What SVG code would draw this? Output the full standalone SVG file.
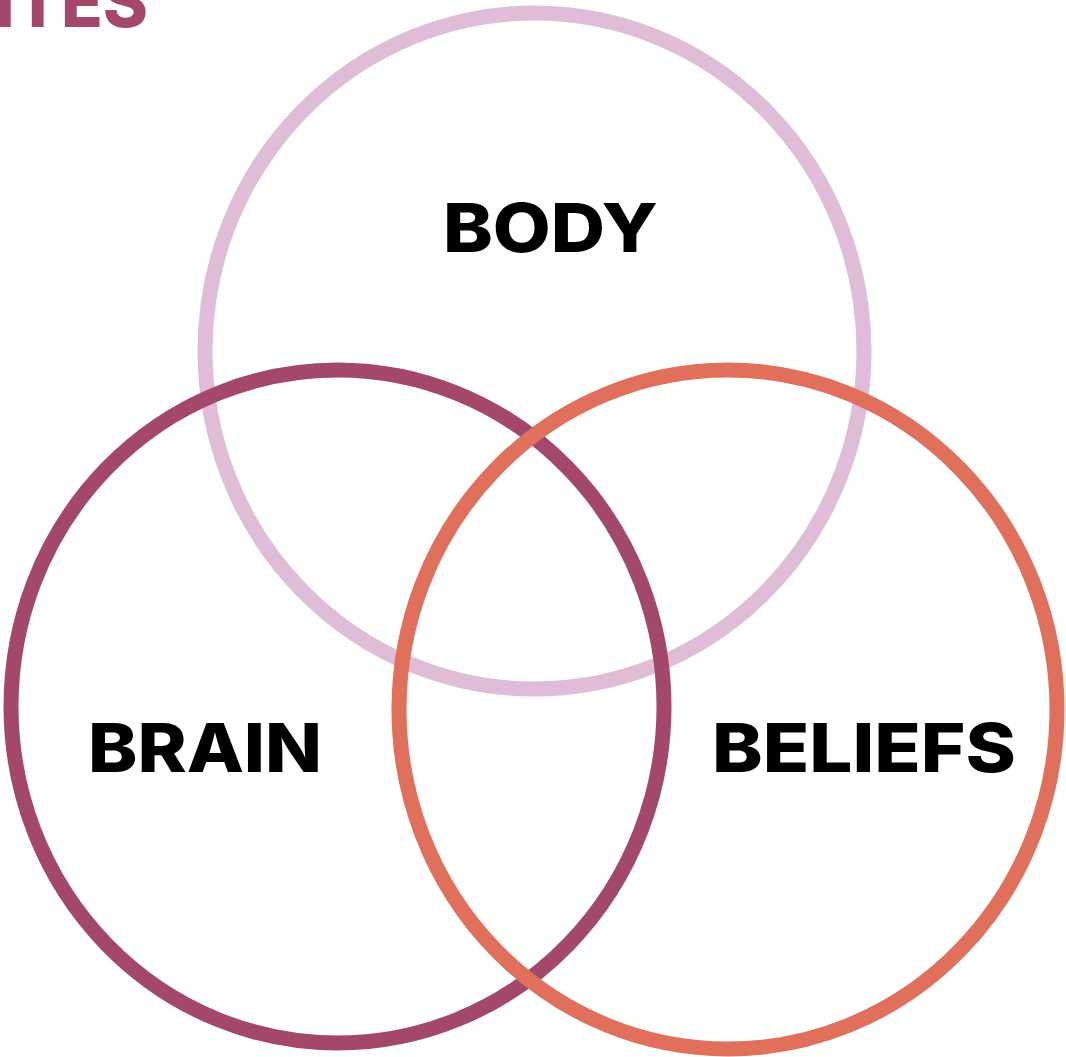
<svg xmlns="http://www.w3.org/2000/svg" width="1066" height="1057" viewBox="0 0 1066 1057">
<style>
.ring{fill:none;stroke-width:15}
.lbl{font-family:Inter,"Liberation Sans",sans-serif;font-weight:800;fill:#000;font-size:68px}
</style>
<rect width="1066" height="1057" fill="#fff"/>
<text x="-5" y="27" font-family="Inter,'Liberation Sans',sans-serif" font-weight="800" font-size="72" fill="#a3476b" textLength="153" lengthAdjust="spacingAndGlyphs">ITES</text>
<g id="connectors"></g>
<g id="body">
<ellipse class="ring" cx="534.5" cy="351" rx="329.5" ry="338" stroke="#dfbcd7"/>
<text class="lbl" x="443" y="252" textLength="215" lengthAdjust="spacingAndGlyphs">BODY</text>
</g>
<g id="brain">
<ellipse class="ring" cx="337.5" cy="706.5" rx="326.5" ry="336.5" stroke="#a3476b"/>
<text class="lbl" x="88" y="772" textLength="234" lengthAdjust="spacingAndGlyphs">BRAIN</text>
</g>
<g id="beliefs">
<ellipse class="ring" cx="728" cy="709.5" rx="329" ry="339.5" stroke="#e0705c"/>
<text class="lbl" x="712" y="772" textLength="304" lengthAdjust="spacingAndGlyphs">BELIEFS</text>
</g>
</svg>
